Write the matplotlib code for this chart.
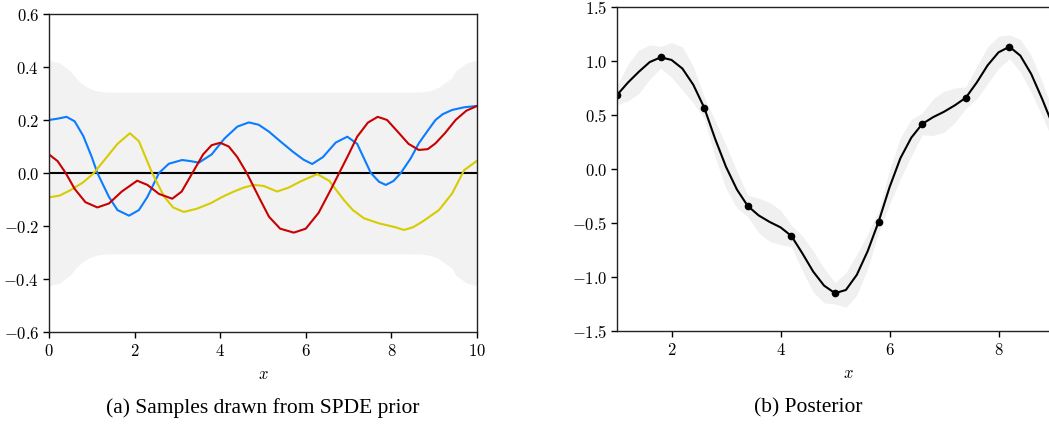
import numpy as np
import matplotlib
matplotlib.use("Agg")
import matplotlib.pyplot as plt
from matplotlib.ticker import FuncFormatter

plt.rcParams['mathtext.fontset'] = 'cm'

# ---- (a) prior samples ----
band_x = [0, 0.25, 0.5, 0.62, 0.75, 0.9, 1.0, 1.15, 1.3, 1.5, 8.5, 8.7, 8.85, 9.0, 9.1, 9.25, 9.42, 9.5, 9.75, 10]
band_hi = [0.426, 0.415, 0.385, 0.36, 0.34, 0.323, 0.316, 0.309, 0.306, 0.305, 0.305, 0.306, 0.309, 0.316, 0.323, 0.34, 0.36, 0.385, 0.415, 0.426]

blue_x = [0, 0.2, 0.41, 0.6, 0.8, 1.0, 1.13, 1.4, 1.6, 1.87, 2.1, 2.3, 2.57, 2.8, 3.11, 3.3, 3.5, 3.8,
          4.1, 4.4, 4.67, 4.9, 5.14, 5.4, 5.7, 5.95, 6.15, 6.4, 6.7, 6.97, 7.2, 7.52, 7.71, 7.87,
          8.05, 8.22, 8.45, 8.64, 8.85, 9.03, 9.2, 9.42, 9.7, 10]
blue_y = [0.2, 0.205, 0.212, 0.195, 0.14, 0.06, 0.0, -0.09, -0.14, -0.161, -0.14, -0.09, 0.0, 0.035, 0.049, 0.045, 0.039, 0.07,
          0.13, 0.175, 0.191, 0.182, 0.156, 0.12, 0.08, 0.05, 0.034, 0.06, 0.115, 0.137, 0.11, 0.0, -0.033, -0.045,
          -0.03, 0.0, 0.055, 0.112, 0.16, 0.2, 0.222, 0.238, 0.248, 0.253]

red_x = [0, 0.2, 0.39, 0.6, 0.85, 1.13, 1.4, 1.7, 2.06, 2.3, 2.57, 2.88, 3.1, 3.35, 3.6, 3.8, 4.0,
         4.2, 4.4, 4.62, 4.9, 5.14, 5.4, 5.72, 6.0, 6.3, 6.58, 6.78, 7.0, 7.2, 7.45, 7.68, 7.9,
         8.18, 8.4, 8.64, 8.85, 9.03, 9.25, 9.5, 9.75, 10]
red_y = [0.07, 0.045, 0.0, -0.06, -0.11, -0.13, -0.115, -0.07, -0.029, -0.045, -0.079, -0.097, -0.07, 0.0, 0.07, 0.105, 0.114,
         0.1, 0.06, 0.0, -0.09, -0.165, -0.21, -0.225, -0.21, -0.15, -0.064, 0.0, 0.07, 0.137, 0.19, 0.212, 0.2,
         0.15, 0.11, 0.087, 0.09, 0.112, 0.15, 0.2, 0.235, 0.253]

yel_x = [0, 0.25, 0.51, 0.8, 1.05, 1.3, 1.6, 1.89, 2.1, 2.41, 2.69, 2.9, 3.15, 3.45, 3.78, 4.05, 4.32,
         4.55, 4.79, 5.02, 5.33, 5.6, 5.9, 6.27, 6.55, 6.89, 7.1, 7.36, 7.71, 7.87, 8.1, 8.29, 8.5,
         8.72, 9.11, 9.42, 9.7, 10]
yel_y = [-0.092, -0.085, -0.064, -0.035, 0.0, 0.05, 0.11, 0.15, 0.12, 0.0, -0.089, -0.13, -0.147, -0.135, -0.114, -0.09, -0.07,
         -0.055, -0.045, -0.049, -0.07, -0.055, -0.03, -0.004, -0.03, -0.102, -0.14, -0.171, -0.19, -0.196, -0.205, -0.215, -0.205,
         -0.184, -0.14, -0.077, 0.011, 0.046]

# ---- (b) posterior ----
obs_x = [1.0, 1.8, 2.6, 3.4, 4.2, 5.0, 5.8, 6.6, 7.4, 8.2]
obs_y = [0.685, 1.034, 0.568, -0.343, -0.62, -1.15, -0.488, 0.417, 0.66, 1.132]

post_x = [1.0, 1.2, 1.4, 1.6, 1.8, 2.0, 2.2, 2.4, 2.6, 2.8, 3.0, 3.2, 3.4, 3.6, 3.8, 4.0, 4.2,
          4.4, 4.6, 4.8, 5.0, 5.2, 5.4, 5.6, 5.8, 6.0, 6.2, 6.4, 6.6, 6.8, 7.0, 7.2, 7.4,
          7.6, 7.8, 8.0, 8.2, 8.4, 8.6, 8.8, 9.0]
post_m = [0.685, 0.80, 0.90, 0.99, 1.034, 1.01, 0.93, 0.78, 0.568, 0.28, 0.02, -0.19, -0.343, -0.43, -0.49, -0.54, -0.62,
          -0.78, -0.95, -1.08, -1.15, -1.12, -0.98, -0.76, -0.488, -0.17, 0.10, 0.29, 0.417, 0.48, 0.53, 0.59, 0.66,
          0.80, 0.96, 1.08, 1.132, 1.05, 0.88, 0.65, 0.40]
post_w = [0.09, 0.17, 0.20, 0.16, 0.10, 0.16, 0.20, 0.17, 0.10, 0.17, 0.20, 0.17, 0.10, 0.16, 0.18, 0.16, 0.10,
          0.16, 0.19, 0.16, 0.10, 0.16, 0.19, 0.16, 0.10, 0.16, 0.19, 0.17, 0.10, 0.17, 0.19, 0.16, 0.10,
          0.15, 0.17, 0.15, 0.11, 0.15, 0.17, 0.16, 0.14]

fig = plt.figure(figsize=(10.49, 4.26), dpi=100)
ax1 = fig.add_axes([49/1049, 1-332/426, 428/1049, 318/426])
ax2 = fig.add_axes([617/1049, 1-331/426, 463/1049, 324/426])

fmt = FuncFormatter(lambda v, p: r'$%.1f$' % v if abs(v) > 1e-9 else r'$0.0$')
fmt_int = FuncFormatter(lambda v, p: r'$%d$' % v)

bx = np.array(band_x)
bh = np.array(band_hi)
ax1.fill_between(bx, -bh, bh, color='#f2f2f2', lw=0)
ax1.axhline(0, color='black', lw=1.5)
ax1.plot(blue_x, blue_y, color='#0a7cff', lw=1.5)
ax1.plot(yel_x, yel_y, color='#d6cc00', lw=1.5)
ax1.plot(red_x, red_y, color='#c80000', lw=1.5)
ax1.set_xlim(0, 10)
ax1.set_ylim(-0.6, 0.6)
ax1.set_xticks([0, 2, 4, 6, 8, 10])
ax1.set_yticks([-0.6, -0.4, -0.2, 0.0, 0.2, 0.4, 0.6])
ax1.yaxis.set_major_formatter(fmt)
ax1.xaxis.set_major_formatter(fmt_int)

pm = np.array(post_m)
pw = np.array(post_w)
ax2.fill_between(post_x, pm - pw, pm + pw, color='#f0f0f0', lw=0)
ax2.plot(post_x, post_m, color='black', lw=1.5)
ax2.plot(obs_x, obs_y, 'o', color='black', ms=4.5)
ax2.set_xlim(1, 1 + 463/54.5)
ax2.set_ylim(-1.5, 1.5)
ax2.set_xticks([2, 4, 6, 8])
ax2.set_yticks([-1.5, -1.0, -0.5, 0.0, 0.5, 1.0, 1.5])
ax2.yaxis.set_major_formatter(fmt)
ax2.xaxis.set_major_formatter(fmt_int)

for ax in (ax1, ax2):
    for s in ax.spines.values():
        s.set_color('#222222')
        s.set_linewidth(1.0)
    ax.tick_params(direction='out', length=4, width=1, labelsize=12, pad=3,
                   top=False, right=False)
    ax.set_xlabel('$x$', fontsize=12, labelpad=4)

fig.text(263/1049, 1-408/426, '(a) Samples drawn from SPDE prior', ha='center', va='center',
         fontsize=15.5, family='Liberation Serif')
fig.text(808/1049, 1-408/426, '(b) Posterior', ha='center', va='center',
         fontsize=15.5, family='Liberation Serif')

plt.savefig('out.png', dpi=100)
